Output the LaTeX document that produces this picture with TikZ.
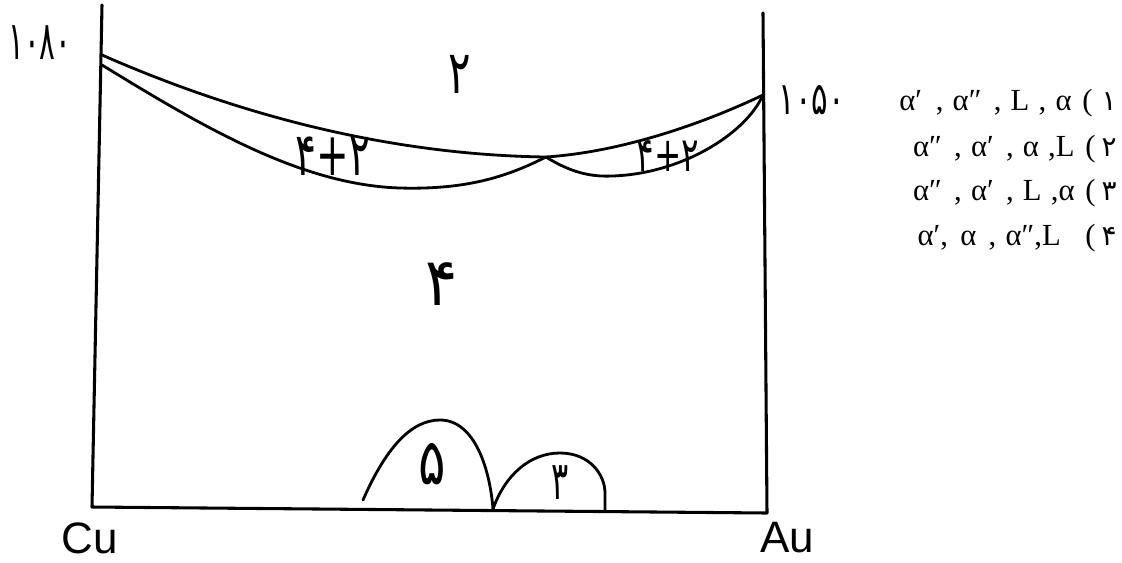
\documentclass[tikz,border=0pt]{standalone}
\usepackage{fontspec}
\setmainfont{Liberation Serif}
\newfontfamily\fa[Script=Arabic]{DejaVu Sans}
\newfontfamily\hand{Liberation Sans}
\newcommand\hsqz[2]{\scalebox{#1}[1]{#2}}
\newcommand\fsz[1]{\fontsize{#1}{#1}\selectfont}
\begin{document}
\begin{tikzpicture}[x=0.75pt,y=-0.75pt,
  phase/.style={line width=2.1pt,line cap=round,line join=round},
  frame/.style={line width=2.3pt,line cap=round,line join=round},
  digitlbl/.style={inner sep=0pt,font=\fa},
  elem/.style={inner sep=0pt,font=\hand\fsz{33}},
  choice/.style={inner sep=0pt,anchor=east,font=\fsz{23}}]
\useasboundingbox (0,0) rectangle (1122,562);
% frame corners
\coordinate (TL) at (102,5);
\coordinate (BL) at (92,507);
\coordinate (BR) at (767,513);
\coordinate (TR) at (763,13);
% curve points
\coordinate (A) at (102,55);
\coordinate (B) at (102,65);
\coordinate (M) at (546,157);
\coordinate (R) at (763,95);
\coordinate (Lmin) at (400,188);
\coordinate (Rmin) at (612,176);
\coordinate (D1) at (363,500);
\coordinate (D2) at (440,420);
\coordinate (D3) at (493,509);
\coordinate (D4) at (560,453);
\coordinate (D5) at (605,493);
\coordinate (D6) at (605,511);
% frame
\draw[frame] (TL) -- (BL) -- (BR) -- (TR);
% liquidus
\draw[phase] (A) .. controls (250,120) and (400,155) .. (M);
\draw[phase] (M) .. controls (620,152) and (700,125) .. (R);
% solidus
\draw[phase] (B) .. controls (200,125) and (300,185) .. (Lmin)
  .. controls (470,190) and (510,175) .. (M);
\draw[phase] (M) .. controls (570,172) and (590,177) .. (Rmin)
  .. controls (680,174) and (745,135) .. (R);
% domes
\draw[phase] (D1) .. controls (385,450) and (410,420) .. (D2)
  .. controls (475,420) and (490,470) .. (D3);
\draw[phase] (D3) .. controls (505,475) and (530,453) .. (D4)
  .. controls (590,453) and (605,475) .. (D5) -- (D6);
% labels
\node[digitlbl] (m1) at (40,43) {\hsqz{0.55}{\fsz{40}۱۰۸۰}};
\node[digitlbl] (m2) at (812,100) {\hsqz{0.68}{\fsz{34}۱۰۵۰}};
\node[digitlbl] (r2) at (460,74) {\hsqz{0.7}{\fsz{45}۲}};
\node[digitlbl] (r4) at (442,284) {\hsqz{0.9}{\fsz{50}۴}};
\node[digitlbl] (r42a) at (333,156) {\hsqz{0.65}{\fsz{45}۴+۲}};
\node[digitlbl] (r42b) at (668,156) {\hsqz{0.68}{\fsz{36}۴+۲}};
\node[digitlbl] (r5) at (432,464) {\hsqz{0.8}{\fsz{48}۵}};
\node[digitlbl] (r3) at (560,483) {\hsqz{0.6}{\fsz{40}۳}};
\node[elem] (cu) at (90,538) {Cu};
\node[elem] (au) at (787,538) {Au};
% choices
\node[choice] (c1) at (1117,103) {α′\hspace{0.45em},\hspace{0.3em}α″\hspace{0.4em},\hspace{0.3em}L\hspace{0.3em},\hspace{0.3em}α\hspace{0.35em}(\hspace{0.3em}{\fa\fsz{21}۱}};
\node[choice] (c2) at (1117,149) {α″\hspace{0.4em},\hspace{0.3em}α′\hspace{0.4em},\hspace{0.3em}α\hspace{0.3em},L\hspace{0.35em}(\hspace{0.2em}{\fa\fsz{21}۲}};
\node[choice] (c3) at (1117,193) {α″\hspace{0.4em},\hspace{0.3em}α′\hspace{0.4em},\hspace{0.3em}L\hspace{0.3em},α\hspace{0.35em}(\hspace{0.2em}{\fa\fsz{21}۳}};
\node[choice] (c4) at (1117,238) {α′,\hspace{0.4em}α\hspace{0.4em},\hspace{0.3em}α″,L\hspace{0.8em}(\hspace{0.2em}{\fa\fsz{21}۴}};
\end{tikzpicture}
\end{document}
